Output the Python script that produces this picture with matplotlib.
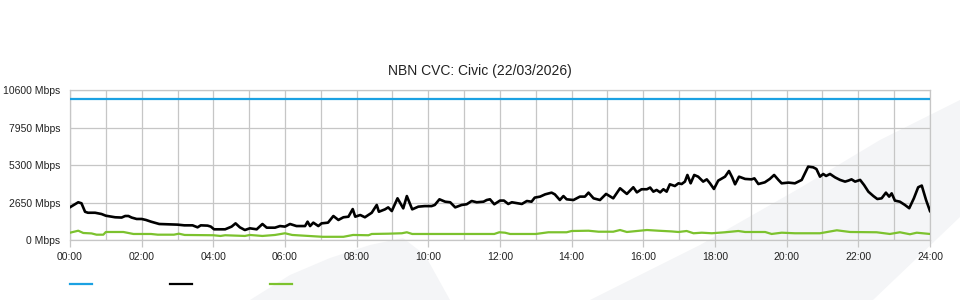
import matplotlib
matplotlib.use("Agg")
import matplotlib.pyplot as plt
from matplotlib.patches import Polygon

plt.rcParams["font.family"] = ["Liberation Sans", "DejaVu Sans"]

TITLE = "NBN CVC: Civic (22/03/2026)"

# y axis
Y_TICKS = [0, 2650, 5300, 7950, 10600]
Y_LABELS = [f"{v} Mbps" for v in Y_TICKS]
# x axis (hours of the day)
X_MAJOR = list(range(0, 25, 2))
X_LABELS = [f"{h:02d}:00" for h in X_MAJOR]
X_MINOR = list(range(0, 25))

# capacity (blue)
cap_t = [0, 24]
cap_v = [10000, 10000]

# download traffic (black), hours / Mbps
dl_t = [0.00, 0.23, 0.32, 0.42, 0.50, 0.70, 0.88, 1.00, 1.26, 1.44, 1.54, 1.63, 1.72, 1.86,
        2.00, 2.12, 2.26, 2.49, 3.00, 3.19, 3.42, 3.56, 3.65, 3.84, 3.93, 4.02, 4.33, 4.51,
        4.62, 4.74, 4.88, 5.02, 5.21, 5.37, 5.49, 5.72, 5.86, 6.00, 6.14, 6.32, 6.56, 6.63,
        6.70, 6.79, 6.93, 7.02, 7.20, 7.35, 7.49, 7.63, 7.77, 7.89, 7.96, 8.10, 8.23, 8.42,
        8.56, 8.62, 8.79, 8.88, 8.98, 9.14, 9.30, 9.40, 9.55, 9.72, 9.90, 10.09, 10.18, 10.31,
        10.47, 10.61, 10.75, 10.93, 11.07, 11.21, 11.35, 11.54, 11.63, 11.72, 11.84, 12.00,
        12.11, 12.23, 12.33, 12.61, 12.75, 12.88, 12.97, 13.12, 13.26, 13.44, 13.53, 13.67,
        13.77, 13.86, 14.05, 14.23, 14.37, 14.47, 14.61, 14.79, 14.96, 15.16, 15.35, 15.54,
        15.72, 15.82, 15.95, 16.10, 16.19, 16.28, 16.37, 16.47, 16.56, 16.65, 16.74, 16.88,
        16.98, 17.07, 17.16, 17.23, 17.32, 17.42, 17.53, 17.67, 17.77, 17.86, 17.97, 18.09,
        18.28, 18.39, 18.48, 18.56, 18.67, 18.84, 19.02, 19.10, 19.21, 19.39, 19.53, 19.65,
        19.77, 19.86, 20.05, 20.23, 20.42, 20.51, 20.60, 20.74, 20.83, 20.93, 21.02, 21.10,
        21.21, 21.35, 21.49, 21.63, 21.72, 21.81, 21.91, 22.05, 22.16, 22.28, 22.42, 22.53,
        22.65, 22.77, 22.86, 22.93, 23.02, 23.16, 23.30, 23.42, 23.55, 23.67, 23.77, 23.89,
        24.00]
dl_v = [2330, 2680, 2610, 2010, 1940, 1940, 1850, 1730, 1620, 1600, 1710, 1710, 1600, 1500,
        1500, 1430, 1310, 1145, 1100, 1050, 1050, 910, 1050, 1030, 960, 770, 770, 960,
        1190, 910, 720, 840, 770, 1145, 885, 885, 1000, 960, 1145, 1000, 1000, 1310,
        1000, 1240, 1000, 1190, 1240, 1710, 1430, 1620, 1660, 2200, 1660, 1780, 1620, 1940,
        2490, 2010, 2180, 2320, 2060, 2960, 2250, 3120, 2180, 2370, 2410, 2410, 2490, 2890,
        2720, 2680, 2320, 2490, 2540, 2770, 2680, 2720, 2840, 2890, 2540, 2800,
        2800, 2560, 2680, 2560, 2770, 2720, 3010, 3080, 3240, 3360, 3240, 2840,
        3120, 2890, 2840, 3080, 3080, 3360, 2960, 2840, 3270, 2960, 3670, 3270,
        3740, 3380, 3600, 3600, 3720, 3430, 3550, 3380, 3600, 3430, 3950, 3830,
        4020, 3970, 4140, 4610, 4020, 4610, 4490, 4140, 4300, 4020, 3620, 4210,
        4490, 4890, 4440, 3950, 4490, 4330, 4300, 4370, 3970, 4090, 4330, 4610,
        4260, 4020, 4070, 4020, 4260, 4730, 5200, 5150, 5030, 4490, 4680, 4540,
        4680, 4440, 4260, 4140, 4210, 4300, 4140, 4260, 3900, 3430, 3120, 2910,
        2960, 3360, 3080, 3310, 2800, 2720, 2490, 2260, 2960, 3740, 3860, 2840,
        2060]

# upload traffic (green)
ul_t = [0.00, 0.23, 0.37, 0.60, 0.74, 0.93, 1.00, 1.49, 1.77, 2.26, 2.45, 2.90, 3.04, 3.20,
        4.00, 4.20, 4.33, 4.88, 5.02, 5.37, 5.72, 6.00, 6.20, 7.05, 7.63, 7.90, 8.33, 8.42,
        8.88, 9.26, 9.40, 9.55, 11.84, 11.98, 12.14, 12.28, 13.00, 13.35, 13.86, 14.00,
        14.47, 14.75, 15.16, 15.35, 15.54, 15.82, 16.10, 16.42, 16.79, 16.98, 17.21, 17.40,
        17.63, 17.91, 18.28, 18.65, 18.84, 19.40, 19.58, 19.86, 20.23, 20.93, 21.40, 21.77,
        22.51, 22.88, 23.16, 23.44, 23.63, 24.00]
ul_v = [530, 670, 510, 480, 390, 390, 580, 580, 440, 440, 390, 390, 460, 370,
        350, 300, 350, 300, 370, 300, 370, 490, 370, 240, 240, 370, 350, 440,
        460, 490, 560, 440, 440, 560, 530, 440, 440, 560, 560, 650,
        670, 600, 600, 720, 580, 650, 720, 670, 620, 580, 650, 490,
        530, 490, 560, 650, 580, 580, 440, 530, 490, 490, 700, 580,
        560, 440, 560, 420, 530, 440]

W, H = 960, 300
fig = plt.figure(figsize=(W / 100, H / 100), dpi=100)


def px(points):
    return [(x / W, 1 - y / H) for x, y in points]


# faint background decoration
deco = "#f4f5f7"
fig.add_artist(Polygon(px([(250, 300), (290, 275), (330, 258), (370, 245), (403, 238),
                           (425, 255), (450, 300)]),
                       closed=True, transform=fig.transFigure, fc=deco, ec="none", zorder=0))
fig.add_artist(Polygon(px([(590, 300), (700, 245), (800, 188), (880, 140), (960, 100),
                           (960, 217), (873, 300)]),
                       closed=True, transform=fig.transFigure, fc=deco, ec="none", zorder=0))

ax = fig.add_axes([70 / W, 1 - 240.2 / H, 860 / W, 150 / H])
ax.set_facecolor("none")

grid_c = "#c6c6c6"
ax.plot(cap_t, cap_v, color="#1ba1e2", lw=1.6, zorder=3)
ax.plot(dl_t, dl_v, color="black", lw=1.9, zorder=4)
ax.plot(ul_t, ul_v, color="#7cc22e", lw=1.6, zorder=3)

ax.set_xlim(0, 24)
ax.set_ylim(0, 10600)
ax.set_xticks(X_MAJOR)
ax.set_xticklabels(X_LABELS)
ax.set_xticks(X_MINOR, minor=True)
ax.set_yticks(Y_TICKS)
ax.set_yticklabels(Y_LABELS)
ax.grid(True, which="both", axis="x", color=grid_c, lw=0.9)
ax.grid(True, which="major", axis="y", color=grid_c, lw=0.9)
ax.set_axisbelow(True)
ax.tick_params(axis="x", which="major", length=5, width=0.9, color=grid_c, pad=3.5,
               labelsize=7.5, labelcolor="#222222")
ax.tick_params(axis="x", which="minor", length=0)
ax.tick_params(axis="y", length=0, pad=7, labelsize=7.5, labelcolor="#222222")
for s in ax.spines.values():
    s.set_color(grid_c)
    s.set_linewidth(0.9)

fig.text(0.5, 1 - 70.5 / H, TITLE, ha="center", va="center", fontsize=10, color="#222222")

# legend: swatches only
handles = [plt.Line2D([], [], color=c, lw=1.6) for c in ("#1ba1e2", "black", "#7cc22e")]
fig.legend(handles, ["", "", ""], ncol=3, frameon=False, loc="center left",
           bbox_to_anchor=(70 / W, 1 - 285 / H), fontsize=7.5, handlelength=2.1,
           handletextpad=0, columnspacing=7.5, borderpad=0, borderaxespad=0)

fig.savefig("out.png", dpi=100)
